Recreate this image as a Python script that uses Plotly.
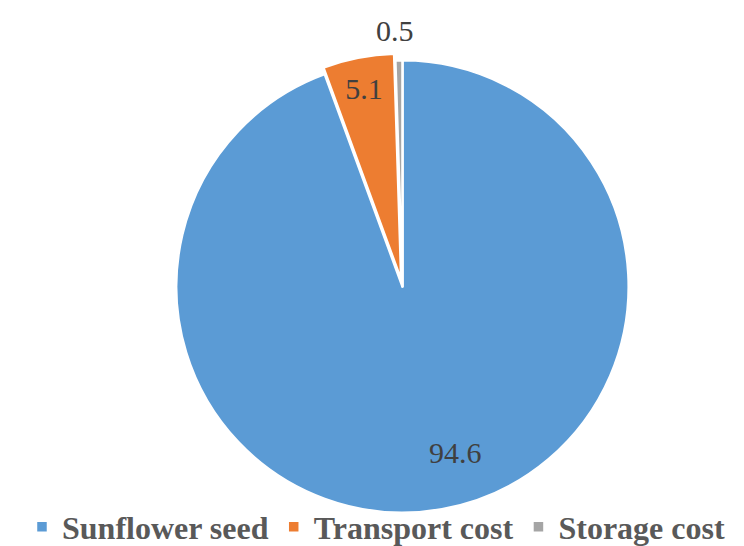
import plotly.graph_objects as go

categories = ["Sunflower seed", "Transport cost", "Storage cost"]
values = [94.6, 5.1, 0.5]
colors = ["#5B9BD5", "#ED7D31", "#A5A5A5"]
pulls = [0, 0.03, 0]
text_positions = ["none", "inside", "none"]

SERIF = "Liberation Serif"
LABEL_FONT = dict(family=SERIF, size=30, color="#404040")

fig = go.Figure(go.Pie(
    labels=categories,
    values=values,
    sort=False,
    direction="clockwise",
    rotation=0,
    pull=pulls,
    marker=dict(colors=colors, line=dict(color="white", width=2.5)),
    textinfo="value",
    texttemplate="%{value}",
    textposition=text_positions,
    insidetextorientation="horizontal",
    textfont=LABEL_FONT,
    domain=dict(x=[0.2170, 0.8434], y=[0.0632, 0.9166]),
    hoverinfo="label+value",
))

# value labels for the biggest and the smallest slice
fig.add_annotation(x=0.6015, y=0.1868, xref="paper", yref="paper",
                   xanchor="center", yanchor="middle",
                   text=str(values[0]), showarrow=False, font=LABEL_FONT)
fig.add_annotation(x=0.5202, y=0.9597, xref="paper", yref="paper",
                   xanchor="center", yanchor="middle",
                   text=str(values[2]), showarrow=False, font=LABEL_FONT)

fig.update_layout(
    width=744, height=546,
    margin=dict(l=0, r=0, t=0, b=0, autoexpand=False),
    paper_bgcolor="white",
    showlegend=True,
    legend=dict(
        orientation="h",
        x=0.0188, xanchor="left",
        y=-0.001, yanchor="bottom",
        bgcolor="rgba(0,0,0,0)",
        font=dict(family=SERIF, size=32, color="#595959", weight="bold"),
        itemwidth=30,
    ),
)

fig.write_html("out.html")
